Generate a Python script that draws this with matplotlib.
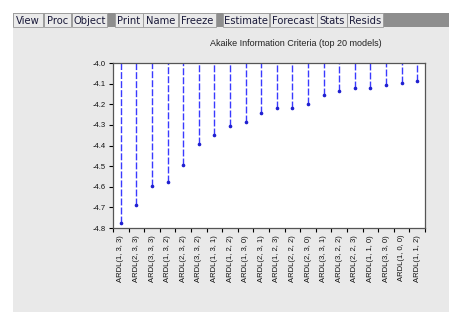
import numpy as np
import matplotlib
matplotlib.use("Agg")
import matplotlib.pyplot as plt
from matplotlib.patches import Rectangle

models = ["ARDL(1, 3, 3)", "ARDL(2, 3, 3)", "ARDL(3, 3, 3)", "ARDL(1, 3, 2)",
          "ARDL(2, 3, 2)", "ARDL(3, 3, 2)", "ARDL(1, 3, 1)", "ARDL(1, 2, 2)",
          "ARDL(1, 3, 0)", "ARDL(2, 3, 1)", "ARDL(1, 2, 3)", "ARDL(2, 2, 2)",
          "ARDL(2, 3, 0)", "ARDL(3, 3, 1)", "ARDL(3, 2, 2)", "ARDL(2, 2, 3)",
          "ARDL(1, 1, 0)", "ARDL(3, 3, 0)", "ARDL(1, 0, 0)", "ARDL(1, 1, 2)"]
aic = [-4.776, -4.687, -4.598, -4.577, -4.496, -4.394, -4.347, -4.307,
       -4.284, -4.242, -4.218, -4.218, -4.200, -4.154, -4.136, -4.123,
       -4.121, -4.108, -4.095, -4.089]
yticks = [-4.0, -4.1, -4.2, -4.3, -4.4, -4.5, -4.6, -4.7, -4.8]
buttons = [("View", 13, 43), ("Proc", 44, 71), ("Object", 72, 107),
           ("Print", 115, 143), ("Name", 143, 178), ("Freeze", 179, 216),
           ("Estimate", 223, 269), ("Forecast", 270, 317), ("Stats", 317, 347),
           ("Resids", 347, 383)]

W, H = 469, 323
fig = plt.figure(figsize=(W / 100, H / 100), dpi=100, facecolor="white")


def box(x0, y0, x1, y1, **kw):
    # pixel coords, y from top
    fig.patches.append(Rectangle((x0 / W, 1 - y1 / H), (x1 - x0) / W, (y1 - y0) / H,
                                 transform=fig.transFigure, zorder=-2, **kw))


# window panel and toolbar
box(13, 27, 449, 312, facecolor="#e9e9e9", edgecolor="none")
box(13, 13, 449, 27, facecolor="#8e8e8e", edgecolor="none")
for name, x0, x1 in buttons:
    box(x0, 13, x1, 27, facecolor="#eaeaea", edgecolor="#9a9a9a", linewidth=0.6)
    fig.text((x0 + x1) / 2 / W, 1 - 20.5 / H, name, ha="center", va="center",
             fontsize=7.2, family="DejaVu Sans", color="#1a1a3a")

ax = fig.add_axes([113 / W, 1 - 228 / H, 312 / W, 165 / H])
ax.set_facecolor("white")
x = np.arange(len(models))
ax.vlines(x, aic, -4.0, colors="#3a3aff", linestyles=(0, (5, 1.5)), linewidth=1.0)
ax.plot(x, aic, linestyle="none", marker="o", markersize=1.6, color="#2020d0")

ax.set_xlim(-0.5, len(models) - 0.5)
ax.set_ylim(-4.8, -4.0)
ax.set_yticks(yticks)
ax.set_yticklabels(["%.1f" % v for v in yticks], fontsize=5.5, family="Liberation Sans",
                   color="#111111")
ax.set_xticks(x)
ax.set_xticklabels(models, rotation=90, fontsize=5.5, family="Liberation Sans",
                   color="#111111")
ax.set_xticks(np.arange(-0.5, len(models), 1), minor=True)
ax.tick_params(axis="x", which="major", length=0, pad=5)
ax.tick_params(axis="x", which="minor", length=3, direction="out", width=0.8)
ax.tick_params(axis="y", length=3, direction="out", width=0.8, pad=2)
for s in ax.spines.values():
    s.set_color("#555555")
    s.set_linewidth(0.9)

fig.text(296 / W, 1 - 44 / H, "Akaike Information Criteria (top 20 models)",
         ha="center", va="center", fontsize=6.5, family="Liberation Sans", color="#222222")

fig.savefig("out.png", dpi=100, facecolor="white")
